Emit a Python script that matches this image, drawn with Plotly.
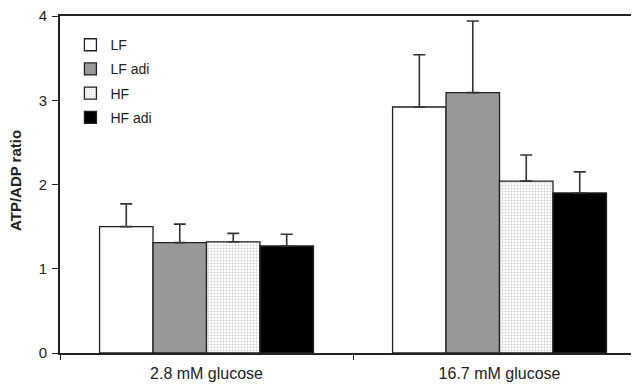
import plotly.graph_objects as go

categories = ["2.8 mM glucose", "16.7 mM glucose"]
series_names = ["LF", "LF adi", "HF", "HF adi"]
means = {
    "LF": [1.50, 2.92],
    "LF adi": [1.31, 3.09],
    "HF": [1.32, 2.04],
    "HF adi": [1.27, 1.90],
}
errors = {
    "LF": [0.27, 0.62],
    "LF adi": [0.22, 0.85],
    "HF": [0.10, 0.31],
    "HF adi": [0.14, 0.25],
}
y_ticks = [0, 1, 2, 3, 4]
y_title = "ATP/ADP ratio"

styles = {
    "LF": dict(color="white", pattern=None),
    "LF adi": dict(color="#999999", pattern=None),
    "HF": dict(color="white", pattern=dict(shape="+", fgcolor="#9a9a9a", bgcolor="white", size=3, solidity=0.3)),
    "HF adi": dict(color="black", pattern=None),
}

# page body has an 8px margin: compensate so the plot area lands where the reference has it
W, H = 631, 378
ML, MT, MB, MR = 52, 8, 33, 0

fig = go.Figure()
for name in series_names:
    st = styles[name]
    marker = dict(color=st["color"], line=dict(color="#222222", width=1.3))
    if st["pattern"]:
        marker["pattern"] = st["pattern"]
    fig.add_trace(go.Bar(
        name=name, x=categories, y=means[name], legendgroup=name,
        marker=marker,
        error_y=dict(type="data", array=errors[name], arrayminus=[0] * len(categories),
                     symmetric=False, color="#333333", thickness=1.6, width=6),
    ))

plot_w = W - ML - MR
plot_h = H - MT - MB

fig.update_layout(
    width=W, height=H,
    margin=dict(l=ML, r=MR, t=MT, b=MB),
    paper_bgcolor="white", plot_bgcolor="white",
    barmode="group", bargap=0.27, bargroupgap=0,
    font=dict(family="Liberation Sans, Arial, sans-serif", color="#222222"),
    showlegend=True,
    legend=dict(x=0.018, y=0.961, xanchor="left", yanchor="top",
                bgcolor="rgba(0,0,0,0)", font=dict(size=14, color="#222222"),
                tracegroupgap=3, itemwidth=30),
    annotations=[dict(
        text="<b>" + y_title + "</b>", textangle=-90, xref="paper", yref="paper",
        x=(15 - 60) / plot_w, y=(345 - 173) / plot_h, xanchor="center", yanchor="middle",
        showarrow=False, font=dict(size=15, color="#222222"),
    )],
)
fig.update_xaxes(
    range=[-0.5, 1.476], showline=True, linecolor="#222222", linewidth=1.6,
    mirror=True, ticks="outside", tickson="boundaries", ticklen=5, tickcolor="#222222",
    tickfont=dict(size=16), ticklabelstandoff=5, showgrid=False,
)
fig.update_yaxes(
    range=[0, 4], tickvals=y_ticks, showline=True, linecolor="#222222", linewidth=1.6,
    ticks="outside", ticklen=6, tickcolor="#222222", tickfont=dict(size=15),
    ticklabelstandoff=2, ticklabeloverflow="allow", showgrid=False, zeroline=False,
)

fig.write_html("out.html")
